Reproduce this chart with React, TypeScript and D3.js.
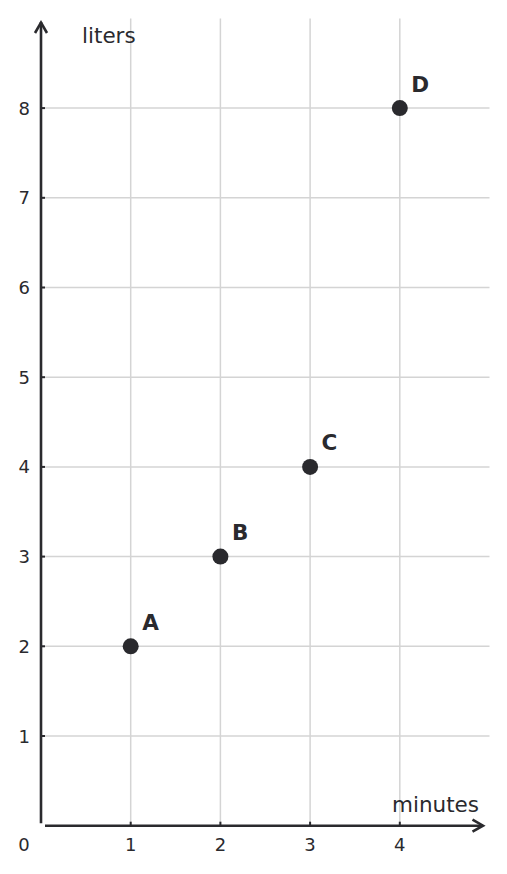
import { useEffect, useRef } from "react";
import * as d3 from "d3";

const pointLabels = ["A", "B", "C", "D"];
const minutes = [1, 2, 3, 4];
const liters = [2, 3, 4, 8];
const xTicks = [1, 2, 3, 4];
const yTicks = [1, 2, 3, 4, 5, 6, 7, 8];

const ink = "#2a2a2e";
const gridColor = "#d4d4d4";
const font = "DejaVu Sans, sans-serif";

function ScatterChart() {
  const ref = useRef<SVGSVGElement>(null);

  useEffect(() => {
    const svg = d3.select(ref.current);
    svg.selectAll("*").remove();
    const width = 507;
    const height = 874;

    const x = d3.scaleLinear().domain([0, 5]).range([41, 489.5]);
    const y = d3.scaleLinear().domain([0, 9]).range([825.7, 18.4]);

    // grid
    svg
      .append("g")
      .selectAll("line")
      .data(xTicks)
      .join("line")
      .attr("x1", (d) => x(d))
      .attr("x2", (d) => x(d))
      .attr("y1", y(9))
      .attr("y2", y(0))
      .attr("stroke", gridColor)
      .attr("stroke-width", 1.5);

    svg
      .append("g")
      .selectAll("line")
      .data(yTicks)
      .join("line")
      .attr("x1", x(0))
      .attr("x2", x(5))
      .attr("y1", (d) => y(d))
      .attr("y2", (d) => y(d))
      .attr("stroke", gridColor)
      .attr("stroke-width", 1.5);

    // axes
    const axes = svg.append("g").attr("stroke", ink).attr("fill", "none");
    axes
      .append("line")
      .attr("x1", x(0))
      .attr("x2", x(0))
      .attr("y1", y(0) - 2.5)
      .attr("y2", 22)
      .attr("stroke-width", 2.6);
    axes
      .append("path")
      .attr("d", `M${x(0) - 6},33 L${x(0)},22.5 L${x(0) + 6},33`)
      .attr("stroke-width", 2.6);
    axes
      .append("line")
      .attr("x1", x(0) + 4)
      .attr("x2", 483)
      .attr("y1", y(0))
      .attr("y2", y(0))
      .attr("stroke-width", 2.6);
    axes
      .append("path")
      .attr("d", `M472.5,${y(0) - 6} L483,${y(0)} L472.5,${y(0) + 6}`)
      .attr("stroke-width", 2.6);

    // ticks
    axes
      .append("g")
      .selectAll("line")
      .data(xTicks)
      .join("line")
      .attr("x1", (d) => x(d))
      .attr("x2", (d) => x(d))
      .attr("y1", y(0))
      .attr("y2", y(0) - 4)
      .attr("stroke-width", 2);
    axes
      .append("g")
      .selectAll("line")
      .data(yTicks)
      .join("line")
      .attr("x1", x(0))
      .attr("x2", x(0) + 4)
      .attr("y1", (d) => y(d))
      .attr("y2", (d) => y(d))
      .attr("stroke-width", 2);

    // tick labels
    svg
      .append("g")
      .selectAll("text")
      .data(xTicks)
      .join("text")
      .attr("x", (d) => x(d))
      .attr("y", 851)
      .attr("text-anchor", "middle")
      .attr("font-family", font)
      .attr("font-size", 18)
      .attr("fill", ink)
      .text((d) => d);
    svg
      .append("text")
      .attr("x", 24)
      .attr("y", 851)
      .attr("text-anchor", "middle")
      .attr("font-family", font)
      .attr("font-size", 18)
      .attr("fill", ink)
      .text("0");
    svg
      .append("g")
      .selectAll("text")
      .data(yTicks)
      .join("text")
      .attr("x", 30)
      .attr("y", (d) => y(d) + 6.5)
      .attr("text-anchor", "end")
      .attr("font-family", font)
      .attr("font-size", 18)
      .attr("fill", ink)
      .text((d) => d);

    // axis titles
    svg
      .append("text")
      .attr("x", 82)
      .attr("y", 42.5)
      .attr("font-family", font)
      .attr("font-size", 21.5)
      .attr("fill", ink)
      .text("liters");
    svg
      .append("text")
      .attr("x", 479)
      .attr("y", 812)
      .attr("text-anchor", "end")
      .attr("font-family", font)
      .attr("font-size", 21.5)
      .attr("fill", ink)
      .text("minutes");

    // points
    const pts = pointLabels.map((label, i) => ({
      label,
      mx: minutes[i],
      ly: liters[i],
    }));
    svg
      .append("g")
      .selectAll("circle")
      .data(pts)
      .join("circle")
      .attr("cx", (d) => x(d.mx))
      .attr("cy", (d) => y(d.ly))
      .attr("r", 8)
      .attr("fill", ink);
    svg
      .append("g")
      .selectAll("text")
      .data(pts)
      .join("text")
      .attr("x", (d) => x(d.mx) + 11.5)
      .attr("y", (d) => y(d.ly) - 16.5)
      .attr("font-family", font)
      .attr("font-weight", "bold")
      .attr("font-size", 21.5)
      .attr("fill", ink)
      .text((d) => d.label);

    svg.attr("width", width).attr("height", height);
  }, []);

  return (
    <svg
      ref={ref}
      width={507}
      height={874}
      style={{ position: "absolute", left: 0, top: 0, background: "#fff" }}
    />
  );
}

export default function App() {
  return <ScatterChart />;
}
